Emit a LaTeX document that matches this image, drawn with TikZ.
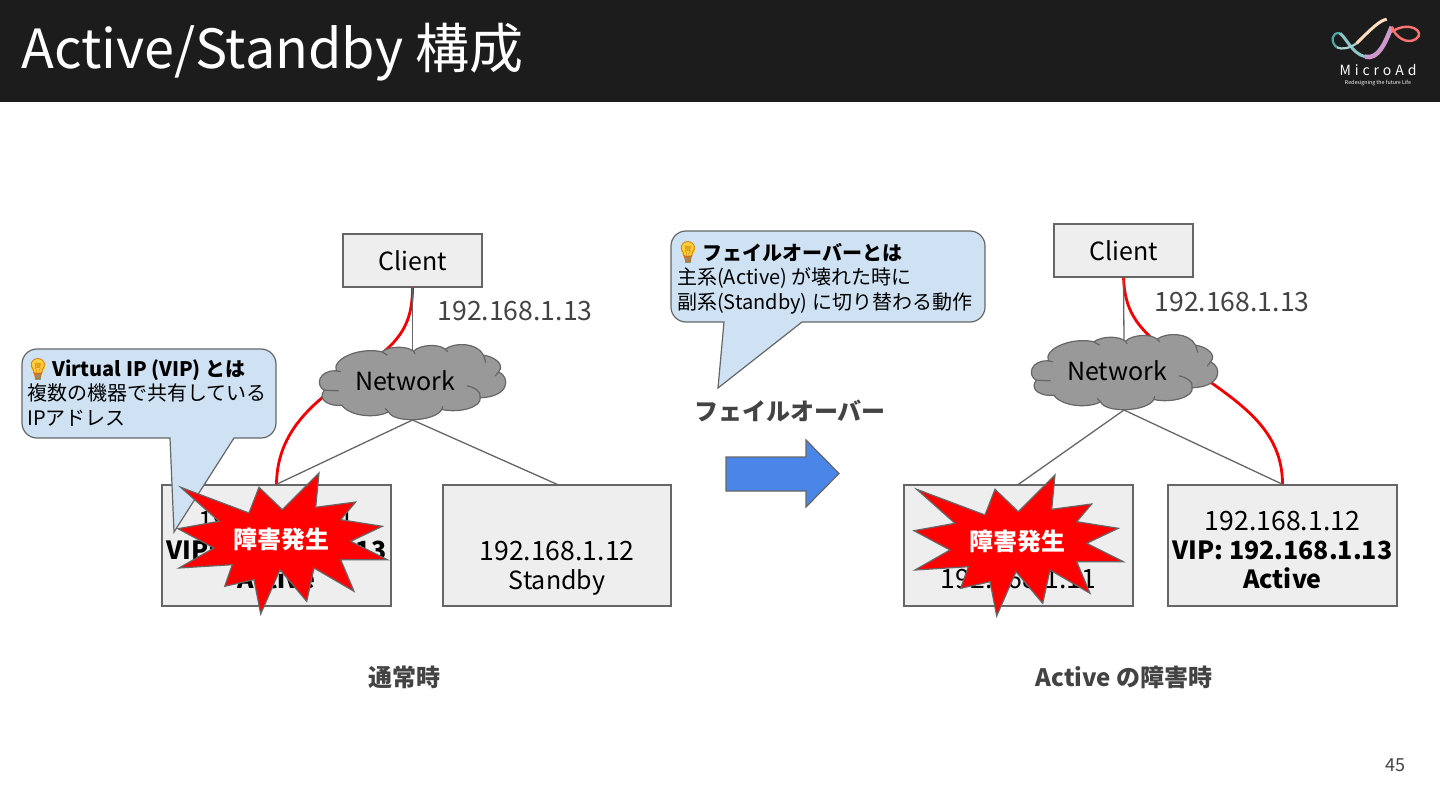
\documentclass[tikz,border=0pt]{standalone}
\usepackage{fontspec}
\usepackage{xcolor}
\usepackage{tikz}
\usetikzlibrary{positioning}
\setmainfont{Noto Sans CJK JP}
\newfontfamily\emojifont{Noto Emoji}
\definecolor{cabecera}{RGB}{28,28,28}
\definecolor{borde}{RGB}{102,102,102}
\definecolor{caja}{RGB}{238,238,238}
\definecolor{nube}{RGB}{153,153,153}
\definecolor{globo}{RGB}{207,226,243}
\definecolor{flecha}{RGB}{74,134,232}
\definecolor{texto}{RGB}{67,67,67}
\definecolor{bombilla}{RGB}{250,210,60}
\definecolor{casquillo}{RGB}{110,160,165}
\newcommand{\ipaddr}[1]{{\fontsize{26.6}{29}\selectfont #1}}
\newcommand{\failburst}[2]{%
  \draw[burst, shift={(#2)}] (-100.3,-51.7) -- (-32,-26) -- (-22,-51.7) -- (1.3,-29.3)
    -- (38,-66) -- (34.7,-31.7) -- (74.7,-37) -- (59.7,-19.3) -- (101.3,-12.7)
    -- (69.7,2.3) -- (106.3,20.7) -- (59.7,20.7) -- (73,52.3) -- (33,29)
    -- (25.7,62.3) -- (-1,30.7) -- (-20.3,75) -- (-27,40.7) -- (-56.3,47.3)
    -- (-48.7,25.7) -- (-102,29) -- (-67,9) -- (-103,-10.3) -- (-62,-17.7) -- cycle;
  \node[bursttext] (#1) at (#2) {障害発生};}
\newcommand{\netcloud}[2]{%
  \begin{scope}[shift={(#2)}]
    \draw[cloudline, fill=nube] (-76.3,-10.7) .. controls (-80.7,-23) and (-52.3,-34.7) .. (-30.7,-29.7)
      .. controls (-22.3,-35.7) and (-5.7,-35.7) .. (1,-30.3)
      .. controls (7.7,-37) and (26,-38) .. (32.7,-32.3)
      .. controls (41,-39) and (64.3,-39.7) .. (71,-26.3)
      .. controls (82.7,-24.7) and (92.7,-16.3) .. (86,-9.7)
      .. controls (97.7,-4.7) and (97.7,15.3) .. (67.7,16.3)
      .. controls (69.3,25.3) and (47.7,32) .. (29.3,28)
      .. controls (22.7,40.3) and (-19,42) .. (-24,30.3)
      .. controls (-35.7,37) and (-62.3,35.3) .. (-70.7,23.7)
      .. controls (-82.3,25.3) and (-95.7,18.7) .. (-88.3,8.7)
      .. controls (-97.3,3.7) and (-94,-11.3) .. cycle;
    \draw[cloudline] (-88.3,8.7) -- (-74,9.3) (-76.3,-10.7) -- (-71.7,-9.7)
      (-30.7,-29.7) -- (-25,-26.3) (1,-30.3) -- (2.7,-27.7) (32.7,-32.3) -- (35.3,-29.7)
      (71,-26.3) -- (73.3,-19) (86,-9.7) -- (82.7,-5.3) (29.3,28) -- (30.3,24.7)
      (-24,30.3) -- (-27.3,27)
      (67.7,16.3) .. controls (69.3,10.3) and (61,5.3) .. (54.3,4.3);
    \node[nettext] (#1) at (-7.5,-0.5) {Network};
  \end{scope}}
\newcommand{\bulbicon}[2]{%
  \fill[bombilla] ([yshift=3pt]#2) circle (7.3pt);
  \fill[casquillo] ([xshift=-3pt,yshift=-4pt]#2) rectangle ([xshift=3pt,yshift=-11pt]#2);
  \node[inner sep=0pt, text=orange!85!black, font=\fontsize{21}{21}\selectfont\emojifont] (#1) at (#2) {\symbol{"1F4A1}};}
\begin{document}
\begin{tikzpicture}[x=1pt, y=-1pt,
  box/.style={draw=borde, fill=caja, line width=1.4pt, inner sep=0pt,
    minimum width=#1, minimum height=121pt},
  boxtext/.style={inner sep=0pt, align=center, font=\fontsize{25}{29}\selectfont},
  clientbox/.style={draw=borde, fill=caja, line width=1.2pt, inner sep=0pt,
    minimum width=139pt, minimum height=53pt, font=\fontsize{25}{29}\selectfont},
  cloudline/.style={draw=borde, line width=1.2pt},
  nettext/.style={font=\fontsize{25}{29}\selectfont, inner sep=0pt},
  iptext/.style={text=texto, font=\fontsize{26.6}{29}\selectfont, inner sep=0pt},
  caption/.style={text=texto, font=\fontsize{24}{28}\selectfont\bfseries, inner sep=0pt},
  link/.style={draw=borde, line width=1.3pt},
  vip/.style={draw=red!95!black, line width=2.8pt},
  callout/.style={draw=borde, fill=globo, line width=1.2pt},
  callouttext/.style={anchor=north west, align=left, inner sep=0pt,
    font=\fontsize{20}{24.5}\selectfont},
  burst/.style={draw=borde, fill=red, line width=1.2pt, line join=miter},
  bursttext/.style={text=white, inner sep=0pt, font=\fontsize{24}{28}\selectfont\bfseries},
]
  \useasboundingbox (0,0) rectangle (1440,810);
  % ---- Header ----
  \fill[cabecera] (0,0) rectangle (1440,102);
  \node[anchor=west, text=white, inner sep=0pt, font=\fontsize{54}{60}\selectfont]
    (title) at (21,52) {Active/Standby 構成};
  % ---- Logo ----
  \draw[line width=2.2pt, color=teal!70!white] (1336.7,47.3) .. controls (1330,41.7) and (1331.7,31.7) .. (1340,33.3);
  \draw[line width=3pt, color=teal!45!white] (1340,33.3) .. controls (1346.7,38.3) and (1351.7,53.3) .. (1365,56.7);
  \draw[line width=2.2pt, color=teal!35!white] (1336.7,47.3) .. controls (1342,50) and (1350,48) .. (1356.7,43.3);
  \draw[line width=3pt, color=orange!25!white] (1356.7,43.3) .. controls (1370,30) and (1380,20) .. (1386.7,19.3);
  \draw[line width=4.5pt, color=violet!40!white] (1365,56.7) .. controls (1378.3,60) and (1385,43.3) .. (1391.7,26.7);
  \draw[line width=2.4pt, color=pink!60!red] (1391.7,26.7) .. controls (1395,36.7) and (1406.7,45) .. (1416,39)
    .. controls (1426,32) and (1410,20) .. (1391.7,31.7);
  \node[text=white, inner sep=0pt, font=\fontsize{14}{16}\selectfont] (logoname) at (1378,70)
    {\addfontfeature{LetterSpace=28}MicroAd};
  \node[text=white, inner sep=0pt, font=\fontsize{5.3}{7}\selectfont, below=4pt of logoname]
    (logotag) {Redesigning the future Life};
  % ---- Left side: normal ----
  \node[clientbox] (clienta) at (412.5,260.5) {Client};
  \node[iptext] (ipa) at (515,311) {192.168.1.13};
  \node[box=229pt] (boxa) at (276.5,545.5) {};
  \node[boxtext] (texta) at ([yshift=-5pt]boxa.center)
    {\ipaddr{192.168.1.11}\\\textbf{VIP: 192.168.1.13}\\\textbf{Active}};
  \node[box=228pt] (boxb) at (557,545.5) {};
  \node[boxtext] (textb) at ([yshift=-9pt]boxb.center)
    {\phantom{0}\\\ipaddr{192.168.1.12}\\Standby};
  \coordinate (nettopa) at (412.5,350);
  \coordinate (netbota) at (412.5,420);
  \draw[vip] (clienta.south) .. controls (412.5,330) and (395,345) .. (360,370)
    .. controls (315,400) and (277,430) .. (boxa.north);
  \draw[link] (clienta.south) -- (nettopa);
  \netcloud{neta}{412.5,381.5}
  \draw[link] (netbota) -- (boxa.north);
  \draw[link] (netbota) -- (boxb.north);
  \node[caption] (capa) at (404,677) {通常時};
  % ---- Callout: VIP ----
  \draw[callout] (170,438) -- (174,532) -- (234,438)
    [rounded corners=15pt] -- (276,438) -- (276,349) -- (22,349) -- (22,438) [rounded corners=0pt] -- cycle;
  \bulbicon{bulba}{38,369}
  \node[callouttext] (vipnote) at (27,359) {\hspace{25pt}\textbf{Virtual IP (VIP) とは}\\複数の機器で共有している\\IPアドレス};
  \failburst{bursta}{281,539}
  % ---- Middle: failover ----
  \draw[callout] (724,322) -- (718,388) -- (802,322)
    [rounded corners=15pt] -- (985,322) -- (985,231) -- (671,231) -- (671,322) [rounded corners=0pt] -- cycle;
  \bulbicon{bulbb}{688,252}
  \node[callouttext] (fonote) at (677,243) {\hspace{25pt}\textbf{フェイルオーバーとは}\\主系(Active) が壊れた時に\\副系(Standby) に切り替わる動作};
  \node[caption] (capfo) at (790,411) {フェイルオーバー};
  \draw[draw=borde, fill=flecha, line width=1.2pt] (726,457) -- (806,457) -- (806,440) -- (839,473.5)
    -- (806,507) -- (806,491) -- (726,491) -- cycle;
  % ---- Right side: failure ----
  \node[clientbox] (clientb) at (1123.5,250.5) {Client};
  \node[iptext] (ipb) at (1232,302) {192.168.1.13};
  \node[box=229pt] (boxc) at (1018.5,545.5) {};
  \node[boxtext] (textc) at ([yshift=-5pt]boxc.center)
    {\phantom{0}\\\phantom{0}\\\ipaddr{192.168.1.11}};
  \node[box=229pt] (boxd) at (1282.5,545.5) {};
  \node[boxtext] (textd) at ([yshift=-5pt]boxd.center)
    {\ipaddr{192.168.1.12}\\\textbf{VIP: 192.168.1.13}\\\textbf{Active}};
  \coordinate (nettopb) at (1124,340);
  \coordinate (netbotb) at (1124,410);
  \draw[vip] (clientb.south) .. controls (1125,310) and (1135,325) .. (1165,350)
    .. controls (1225,395) and (1282.5,420) .. (boxd.north);
  \draw[link] (clientb.south) -- (nettopb);
  \netcloud{netb}{1124.5,371.5}
  \draw[link] (netbotb) -- (boxc.north);
  \draw[link] (netbotb) -- (boxd.north);
  \node[caption] (capb) at (1124,677) {Active の障害時};
  \failburst{burstb}{1017,541}
  % ---- Page number ----
  \node[text=texto, inner sep=0pt, font=\fontsize{18}{22}\selectfont] (pagenum) at (1395,765) {45};
\end{tikzpicture}
\end{document}
